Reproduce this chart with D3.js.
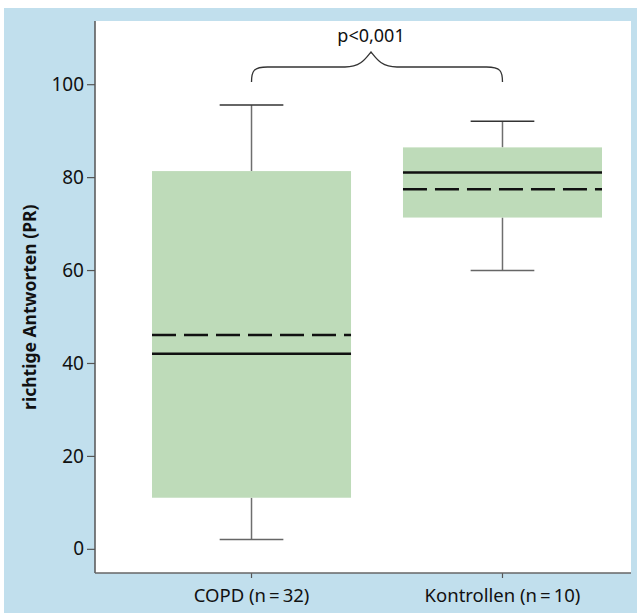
<!DOCTYPE html>
<html>
<head>
<meta charset="utf-8">
<script src="https://cdn.jsdelivr.net/npm/d3@7"></script>
<style>
  body { margin: 0; background: #fff; }
  svg { display: block; }
  text { font-family: "Noto Sans", sans-serif; fill: #111; }
</style>
</head>
<body>
<svg id="chart"></svg>
<script>
// values
const groups = ["COPD (n\u2009=\u200932)", "Kontrollen (n\u2009=\u200910)"]
const whiskerLow = [2.0, 59.9]
const q1 = [11.0, 71.3]
const median = [42.0, 81.0]
const mean = [46.0, 77.4]
const q3 = [81.3, 86.4]
const whiskerHigh = [95.5, 92.0]
const yTicks = [0, 20, 40, 60, 80, 100]
const pLabel = "p<0,001"
const yTitle = "richtige Antworten (PR)"

const W = 637, H = 613
const plot = { left: 95, top: 21, right: 631, bottom: 573 }

const svg = d3.select("#chart")
  .attr("width", W)
  .attr("height", H)

// light blue frame + white plot panel
svg.append("rect")
  .attr("x", 4).attr("y", 8)
  .attr("width", W - 4).attr("height", H - 8)
  .attr("fill", "#c1dfed")
svg.append("rect")
  .attr("x", plot.left).attr("y", plot.top)
  .attr("width", plot.right - plot.left).attr("height", plot.bottom - plot.top)
  .attr("fill", "#fff")

let y = d3.scaleLinear()
  .domain([-5.2, 113.6])
  .range([plot.bottom, plot.top])

let x = d3.scaleBand()
  .domain(groups)
  .range([152, 602])
  .paddingInner(0.207)
  .paddingOuter(0)

const data = groups.map((g, i) => ({
  g: g, lo: whiskerLow[i], q1: q1[i], med: median[i], mean: mean[i], q3: q3[i], hi: whiskerHigh[i]
}))

const cx = d => x(d.g) + x.bandwidth() / 2
const capW = x.bandwidth() * 0.32

let box = svg.append("g")
  .attr("class", "boxes")
  .selectAll("g")
  .data(data)
  .enter().append("g")

// whiskers
box.append("line")
  .attr("x1", cx).attr("x2", cx)
  .attr("y1", d => y(d.q3)).attr("y2", d => y(d.hi))
  .attr("stroke", "#6e6e6e").attr("stroke-width", 1.5)
box.append("line")
  .attr("x1", cx).attr("x2", cx)
  .attr("y1", d => y(d.q1)).attr("y2", d => y(d.lo))
  .attr("stroke", "#6e6e6e").attr("stroke-width", 1.5)
box.append("line")
  .attr("x1", d => cx(d) - capW / 2).attr("x2", d => cx(d) + capW / 2)
  .attr("y1", d => y(d.hi)).attr("y2", d => y(d.hi))
  .attr("stroke", "#333").attr("stroke-width", 1.5)
box.append("line")
  .attr("x1", d => cx(d) - capW / 2).attr("x2", d => cx(d) + capW / 2)
  .attr("y1", d => y(d.lo)).attr("y2", d => y(d.lo))
  .attr("stroke", "#666").attr("stroke-width", 1.5)

// boxes
box.append("rect")
  .attr("x", d => x(d.g))
  .attr("width", x.bandwidth())
  .attr("y", d => y(d.q3))
  .attr("height", d => y(d.q1) - y(d.q3))
  .attr("fill", "#bedbb9")

// median (solid) and mean (dashed)
box.append("line")
  .attr("x1", d => x(d.g)).attr("x2", d => x(d.g) + x.bandwidth())
  .attr("y1", d => y(d.med)).attr("y2", d => y(d.med))
  .attr("stroke", "#111").attr("stroke-width", 2.5)
box.append("line")
  .attr("x1", d => x(d.g)).attr("x2", d => x(d.g) + x.bandwidth())
  .attr("y1", d => y(d.mean)).attr("y2", d => y(d.mean))
  .attr("stroke", "#111").attr("stroke-width", 2.5)
  .attr("stroke-dasharray", "24,8")

// axes
let yAxis = svg.append("g")
  .attr("transform", "translate(" + plot.left + ",0)")
  .call(d3.axisLeft(y).tickValues(yTicks).tickSize(8).tickSizeOuter(0).tickPadding(3))
yAxis.select(".domain").remove()
yAxis.selectAll(".tick line").attr("stroke", "#555").attr("stroke-width", 1.2)
yAxis.selectAll(".tick text").style("font-size", "19px").attr("fill", "#111")

let xAxis = svg.append("g")
  .attr("transform", "translate(0," + plot.bottom + ")")
  .call(d3.axisBottom(x).tickSize(5).tickSizeOuter(0).tickPadding(11))
xAxis.select(".domain").remove()
xAxis.selectAll(".tick line").attr("stroke", "#555").attr("stroke-width", 1.2)
xAxis.selectAll(".tick text").style("font-size", "18.5px").attr("fill", "#111")

svg.append("line")
  .attr("x1", plot.left).attr("x2", plot.left)
  .attr("y1", plot.top).attr("y2", plot.bottom)
  .attr("stroke", "#555").attr("stroke-width", 1.5)
svg.append("line")
  .attr("x1", plot.left).attr("x2", plot.right)
  .attr("y1", plot.bottom).attr("y2", plot.bottom)
  .attr("stroke", "#666").attr("stroke-width", 1.5)

// y title
svg.append("text")
  .attr("transform", "translate(36," + y(52) + ") rotate(-90)")
  .attr("text-anchor", "middle")
  .style("font-size", "17.5px")
  .style("font-weight", "bold")
  .text(yTitle)

// significance brace between the two groups
const x1 = cx(data[0]), x2 = cx(data[1])
const mid = (x1 + x2) / 2 - 6
const yEnd = 82, yBar = 67, yPeak = 52
const brace = d3.path()
brace.moveTo(x1, yEnd)
brace.bezierCurveTo(x1, yBar + 4, x1 + 2, yBar, x1 + 16, yBar)
brace.lineTo(mid - 26, yBar)
brace.bezierCurveTo(mid - 10, yBar, mid - 5, yPeak + 6, mid, yPeak)
brace.bezierCurveTo(mid + 5, yPeak + 6, mid + 10, yBar, mid + 26, yBar)
brace.lineTo(x2 - 16, yBar)
brace.bezierCurveTo(x2 - 2, yBar, x2, yBar + 4, x2, yEnd)
svg.append("path")
  .attr("d", brace.toString())
  .attr("fill", "none")
  .attr("stroke", "#333")
  .attr("stroke-width", 1.3)

svg.append("text")
  .attr("x", mid)
  .attr("y", 42)
  .attr("text-anchor", "middle")
  .style("font-size", "18px")
  .text(pLabel)
</script>
</body>
</html>
